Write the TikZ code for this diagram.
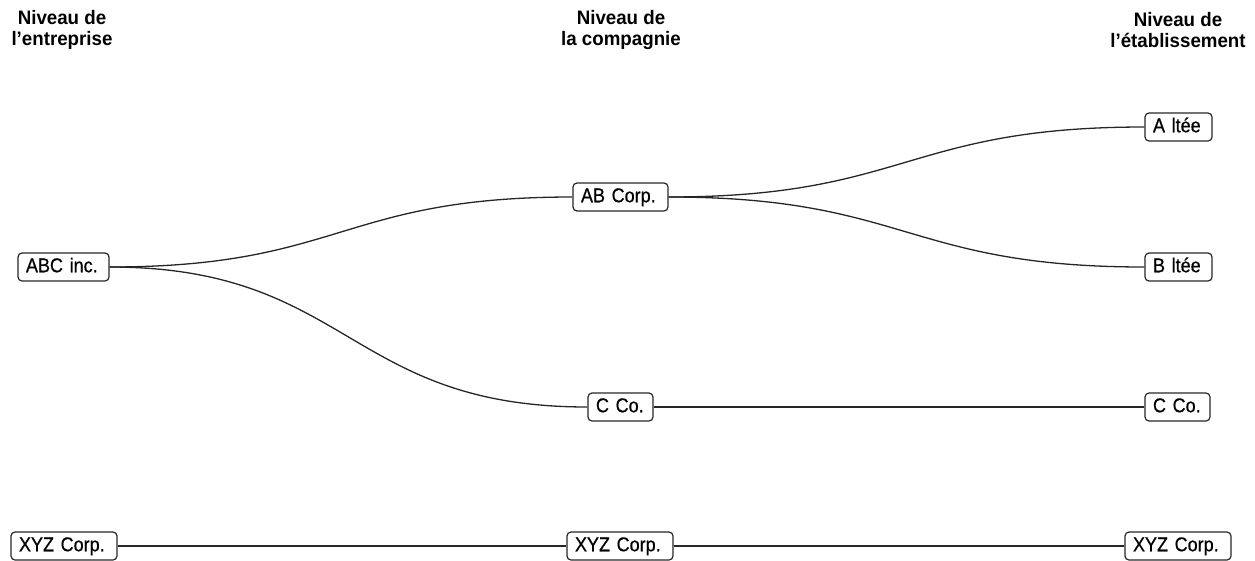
\documentclass[tikz,border=0pt]{standalone}
\usepackage{fontspec}
\setmainfont{Liberation Sans}[FakeStretch=0.96]
\newfontfamily\boxfont{Liberation Sans}[FakeStretch=0.9,FakeBold=0.6]
\begin{document}
\begin{tikzpicture}[x=1pt,y=-1pt,
  box/.style={draw=black!85, line width=1.2pt, rounded corners=4pt,
    font=\boxfont\fontsize{20}{22}\selectfont, text height=14.5pt, text depth=4pt,
    inner ysep=4.75pt, inner xsep=8pt, align=left},
  hdr/.style={font=\fontsize{19.5}{21}\selectfont\bfseries, align=center, inner sep=0pt},
  link/.style={draw=black!85, line width=1.3pt}]
\useasboundingbox (0,0) rectangle (1255,560);
% headers
\node[hdr] (h1) at (62,30) {Niveau de\\l’entreprise};
\node[hdr] (h2) at (621,30) {Niveau de\\la compagnie};
\node[hdr] (h3) at (1178,30) {Niveau de\\l’établissement};
% boxes
\node[box, text width=75pt] (abc) at (63.5,267) {ABC inc.};
\node[box, text width=79pt] (ab) at (620.5,197) {AB Corp.};
\node[box, text width=51pt] (a) at (1178.5,127) {A ltée};
\node[box, text width=51pt] (b) at (1178.5,267) {B ltée};
\node[box, text width=49pt] (cc) at (620.5,407) {C Co.};
\node[box, text width=49pt] (c2) at (1177.5,407) {C Co.};
\node[box, text width=90pt] (x1) at (64,546) {XYZ Corp.};
\node[box, text width=90pt] (x2) at (620,546) {XYZ Corp.};
\node[box, text width=90pt] (x3) at (1178,546) {XYZ Corp.};
% connectors
\draw[link] (abc.east) .. controls +(232,0) and +(-232,0) .. (ab.west);
\draw[link] (abc.east) .. controls +(240,0) and +(-240,0) .. (cc.west);
\draw[link] (ab.east) .. controls +(238,0) and +(-238,0) .. (a.west);
\draw[link] (ab.east) .. controls +(238,0) and +(-238,0) .. (b.west);
\draw[link] (cc.east) -- (c2.west);
\draw[link] (x1.east) -- (x2.west);
\draw[link] (x2.east) -- (x3.west);
\end{tikzpicture}
\end{document}
